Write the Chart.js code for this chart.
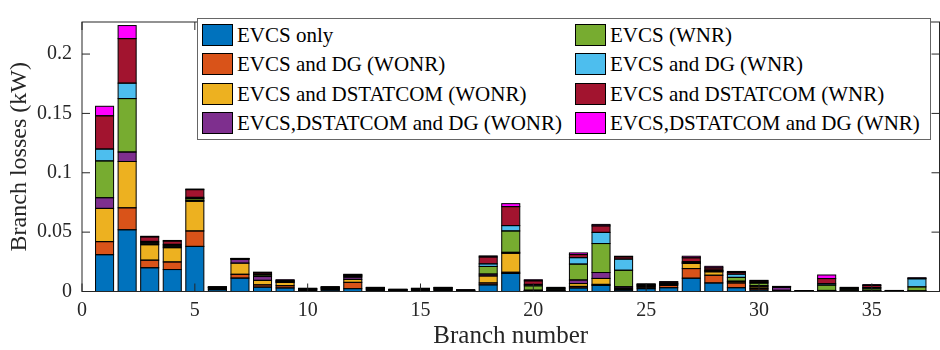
<!DOCTYPE html>
<html>
<head>
<meta charset="utf-8">
<script src="https://cdn.jsdelivr.net/npm/chart.js@4/dist/chart.umd.min.js"></script>
<style>
    body { margin: 0; background: #fff; }
    #wrap { position: relative; width: 940px; height: 350px; }
    #legend {
        position: absolute; left: 197px; top: 18px; width: 734px; height: 122px;
        border: 1px solid #666; background: #fff; box-sizing: border-box;
        font-family: "Liberation Serif", "Tinos", "DejaVu Serif", serif; font-size: 21px; color: #000;
    }
    .item { position: absolute; height: 22px; line-height: 22px; white-space: nowrap; }
    .swatch { position: absolute; left: 0; top: 0; width: 31px; height: 22px; box-sizing: border-box; border: 1px solid #000; }
    .label { position: absolute; left: 35px; top: 0; }
</style>
</head>
<body>
<div id="wrap">
    <canvas id="chart" width="940" height="350"></canvas>
    <div id="legend"></div>
</div>
<script>
const branches = [1, 2, 3, 4, 5, 6, 7, 8, 9, 10, 11, 12, 13, 14, 15, 16, 17, 18, 19, 20,
    21, 22, 23, 24, 25, 26, 27, 28, 29, 30, 31, 32, 33, 34, 35, 36, 37];

const seriesLabels = [
    "EVCS only",
    "EVCS and DG (WONR)",
    "EVCS and DSTATCOM (WONR)",
    "EVCS,DSTATCOM and DG (WONR)",
    "EVCS (WNR)",
    "EVCS and DG (WNR)",
    "EVCS and DSTATCOM (WNR)",
    "EVCS,DSTATCOM and DG (WNR)"
];

const seriesColors = ["#0072BD", "#D95319", "#EDB120", "#7E2F8E", "#77AC30", "#4DBEEE", "#A2142F", "#FF00FF"];

const evcsOnly = [0.031, 0.052, 0.020, 0.0185, 0.038, 0.0015, 0.0113, 0.0037, 0.003, 0.0008,
    0.0012, 0.0024, 0.001, 0.0005, 0.0008, 0.001, 0.0004, 0.0056, 0.0152, 0.0004,
    0.0005, 0.003, 0.0051, 0.0012, 0.0024, 0.0032, 0.0112, 0.0072, 0.0032, 0.0013,
    0.0004, 0.0001, 0.0003, 0.0002, 0.0002, 0.0002, 0.0001];
const evcsDgWonr = [0.011, 0.0185, 0.0064, 0.0064, 0.013, 0.0006, 0.0032, 0.0019, 0.0019, 0.0004,
    0.0006, 0.0053, 0.0005, 0.0003, 0.0004, 0.0005, 0.0002, 0.0016, 0.001, 0.0002,
    0.0003, 0.0013, 0.0009, 0.0008, 0.0012, 0.0019, 0.0081, 0.0065, 0.004, 0.0013,
    0.0003, 0.0001, 0.0002, 0.0001, 0.0001, 0.0001, 0.0001];
const evcsDstatWonr = [0.028, 0.039, 0.013, 0.012, 0.025, 0.0008, 0.0094, 0.0038, 0.0027, 0.0004,
    0.0006, 0.0025, 0.0005, 0.0003, 0.0004, 0.0005, 0.0002, 0.0059, 0.016, 0.0003,
    0.0003, 0.0024, 0.005, 0.0008, 0.0008, 0.0008, 0.0043, 0.0029, 0.0011, 0.0013,
    0.0003, 0.0001, 0.0002, 0.0001, 0.0001, 0.0001, 0.0001];
const evcsDstatDgWonr = [0.009, 0.008, 0.0008, 0.0008, 0.0008, 0.0003, 0.0032, 0.0032, 0.0005, 0.0002,
    0.0003, 0.0019, 0.0003, 0.0002, 0.0002, 0.0004, 0.0001, 0.0016, 0.0008, 0.0002,
    0.0002, 0.003, 0.005, 0.0012, 0.0004, 0.0004, 0.0005, 0.0005, 0.0004, 0.001,
    0.0025, 0.0001, 0.0002, 0.0001, 0.0001, 0.0001, 0.0001];
const evcsWnr = [0.031, 0.045, 0.0012, 0.0012, 0.0015, 0.0003, 0.0003, 0.0013, 0.0005, 0.0004,
    0.0006, 0.0008, 0.0005, 0.0002, 0.0004, 0.0005, 0.0002, 0.0064, 0.018, 0.0037,
    0.001, 0.0134, 0.0244, 0.0139, 0.0006, 0.0004, 0.0005, 0.0005, 0.0032, 0.0022,
    0.0004, 0.0001, 0.0045, 0.0014, 0.0018, 0.0001, 0.0035];
const evcsDgWnr = [0.010, 0.013, 0.0008, 0.0008, 0.001, 0.0002, 0.0002, 0.0006, 0.0004, 0.0002,
    0.0003, 0.0005, 0.0003, 0.0002, 0.0002, 0.0002, 0.0001, 0.0022, 0.0045, 0.0012,
    0.0004, 0.0054, 0.0094, 0.0094, 0.0003, 0.0003, 0.0005, 0.0005, 0.0027, 0.0008,
    0.0002, 0.00005, 0.0012, 0.0004, 0.0011, 0.0001, 0.0068];
const evcsDstatWnr = [0.028, 0.0375, 0.0038, 0.0028, 0.0065, 0.0002, 0.0002, 0.0012, 0.0006, 0.0002,
    0.0003, 0.0008, 0.0003, 0.0001, 0.0002, 0.0003, 0.0001, 0.0058, 0.016, 0.003,
    0.0005, 0.0026, 0.0055, 0.0019, 0.0005, 0.001, 0.0033, 0.0018, 0.0015, 0.001,
    0.0001, 0.00005, 0.0043, 0.0009, 0.0017, 0.0001, 0.0006];
const evcsDstatDgWnr = [0.008, 0.011, 0.0005, 0.0005, 0.0005, 0.0001, 0.0001, 0.0006, 0.0002, 0.0001,
    0.0001, 0.0003, 0.0001, 0.0001, 0.0001, 0.0001, 0.0001, 0.0009, 0.0025, 0.0009,
    0.0003, 0.0014, 0.0012, 0.0005, 0.0002, 0.0003, 0.0013, 0.0013, 0.0008, 0.0005,
    0.0001, 0.00002, 0.003, 0.0003, 0.0007, 0.0001, 0.0002];

const seriesValues = [evcsOnly, evcsDgWonr, evcsDstatWonr, evcsDstatDgWonr,
    evcsWnr, evcsDgWnr, evcsDstatWnr, evcsDstatDgWnr];

const FONT = "'Liberation Serif', Tinos, 'DejaVu Serif', serif";
const AXIS_COLOR = "#262626";

// black edge round every bar segment, centred on the edge (matlab style)
const edgePlugin = {
    id: "edges",
    afterDatasetsDraw(chart) {
        const { ctx } = chart;
        ctx.save();
        ctx.strokeStyle = "#000";
        ctx.lineWidth = 1;
        chart.data.datasets.forEach((ds, i) => {
            chart.getDatasetMeta(i).data.forEach(bar => {
                const { x, y, base, width } = bar.getProps(["x", "y", "base", "width"], true);
                ctx.strokeRect(x - width / 2, Math.min(y, base), width, Math.abs(base - y));
            });
        });
        ctx.restore();
    }
};

// box round the plot with inward ticks on all four sides
const framePlugin = {
    id: "frame",
    afterDraw(chart) {
        const { ctx, chartArea: a, scales: { x, y } } = chart;
        const len = 8;
        ctx.save();
        ctx.strokeStyle = AXIS_COLOR;
        ctx.lineWidth = 1;
        ctx.strokeRect(a.left, a.top, a.right - a.left, a.bottom - a.top);
        ctx.beginPath();
        x.ticks.forEach(t => {
            const px = x.getPixelForValue(t.value);
            ctx.moveTo(px, a.bottom);
            ctx.lineTo(px, a.bottom - len);
            ctx.moveTo(px, a.top);
            ctx.lineTo(px, a.top + len);
        });
        y.ticks.forEach(t => {
            const py = y.getPixelForValue(t.value);
            ctx.moveTo(a.left, py);
            ctx.lineTo(a.left + len, py);
            ctx.moveTo(a.right, py);
            ctx.lineTo(a.right - len, py);
        });
        ctx.stroke();
        ctx.restore();
    }
};

const datasets = seriesLabels.map((label, s) => ({
    label,
    data: branches.map((b, i) => ({ x: b, y: seriesValues[s][i] })),
    backgroundColor: seriesColors[s],
    borderWidth: 0,
    barPercentage: 0.8,
    categoryPercentage: 1
}));

new Chart(document.getElementById("chart"), {
    type: "bar",
    data: { datasets },
    options: {
        responsive: false,
        animation: false,
        devicePixelRatio: 1,
        layout: { padding: { top: 9.5, right: 0.5, left: 0, bottom: 0 } },
        plugins: {
            legend: { display: false },
            tooltip: { enabled: false }
        },
        scales: {
            x: {
                type: "linear",
                stacked: true,
                offset: false,
                min: 0,
                max: 38,
                grid: { display: false, drawTicks: false },
                border: { display: false },
                ticks: {
                    stepSize: 5,
                    includeBounds: false,
                    padding: 7,
                    color: AXIS_COLOR,
                    font: { family: FONT, size: 20 },
                    maxRotation: 0
                },
                title: {
                    display: true,
                    text: "Branch number",
                    color: AXIS_COLOR,
                    font: { family: FONT, size: 25, lineHeight: 1 },
                    padding: { top: 0, bottom: 1 }
                },
                afterFit: scale => { scale.height = 58.5; }
            },
            y: {
                stacked: true,
                min: 0,
                max: 0.227,
                grid: { display: false, drawTicks: false },
                border: { display: false },
                ticks: {
                    stepSize: 0.05,
                    includeBounds: false,
                    padding: 10,
                    color: AXIS_COLOR,
                    font: { family: FONT, size: 20 },
                    callback: v => String(+v.toFixed(2))
                },
                title: {
                    display: true,
                    text: "Branch losses (kW)",
                    color: AXIS_COLOR,
                    font: { family: FONT, size: 24, lineHeight: 1 },
                    padding: { top: 8, bottom: 0 }
                },
                afterFit: scale => { scale.width = 82; }
            }
        }
    },
    plugins: [edgePlugin, framePlugin]
});

// legend: two columns, first four series on the left
const legendBox = document.getElementById("legend");
const rowTops = [5, 34.3, 63.7, 92.7];
const colLefts = [4, 377];
seriesLabels.forEach((label, s) => {
    const item = document.createElement("div");
    item.className = "item";
    item.style.left = colLefts[Math.floor(s / 4)] + "px";
    item.style.top = rowTops[s % 4] + "px";
    const sw = document.createElement("div");
    sw.className = "swatch";
    sw.style.background = seriesColors[s];
    const txt = document.createElement("span");
    txt.className = "label";
    txt.textContent = label;
    item.appendChild(sw);
    item.appendChild(txt);
    legendBox.appendChild(item);
});
</script>
</body>
</html>
